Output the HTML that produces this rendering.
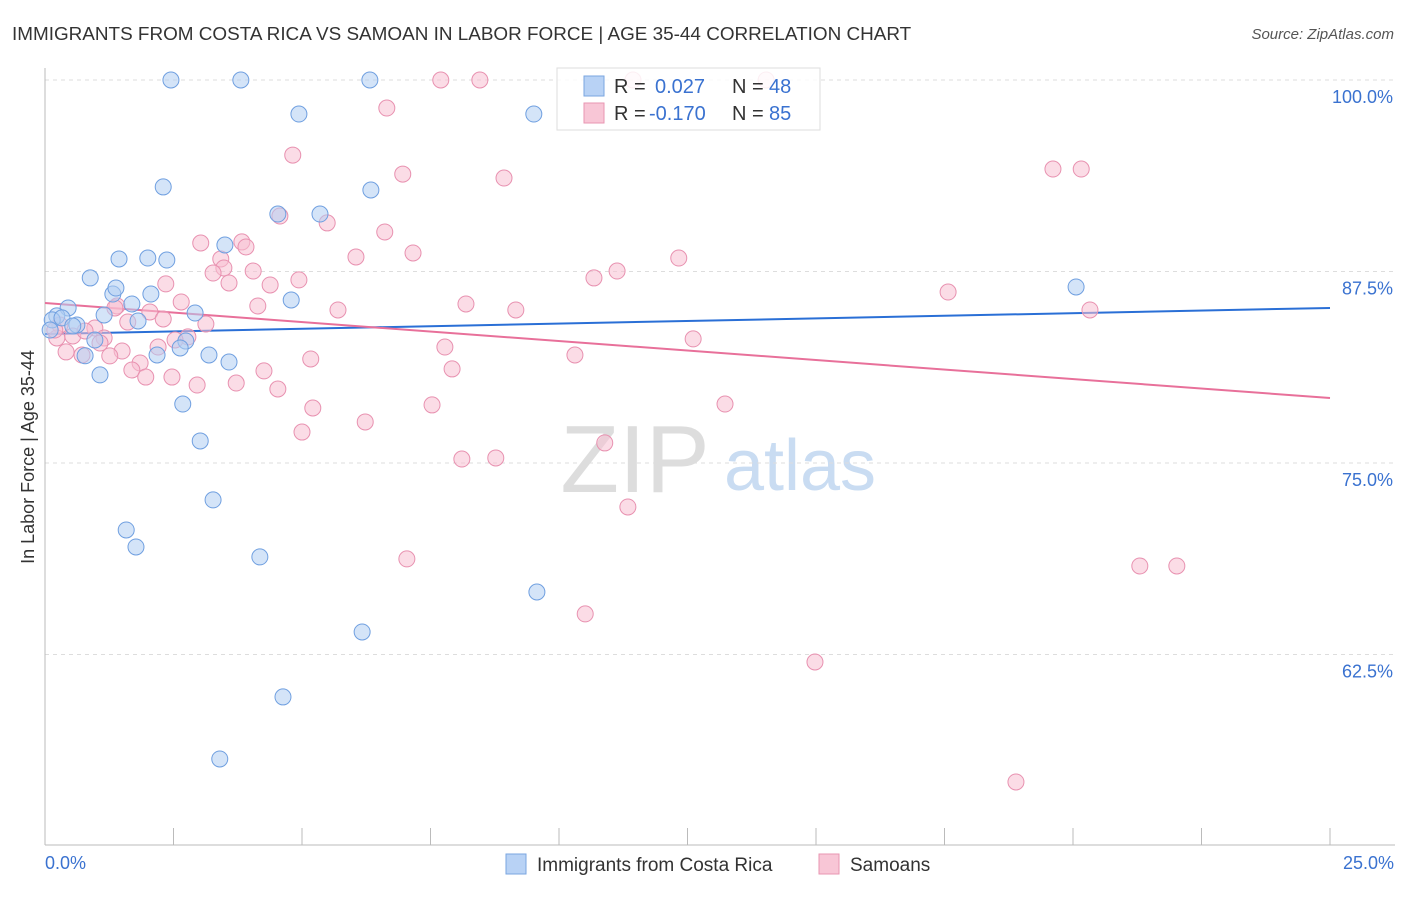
<!DOCTYPE html>
<html><head><meta charset="utf-8">
<style>
body{margin:0;background:#fff;font-family:"Liberation Sans",sans-serif;}
svg text{font-family:"Liberation Sans",sans-serif;}
</style></head>
<body>
<svg id="chart" width="1406" height="892" xmlns="http://www.w3.org/2000/svg">
<text x="12" y="40" font-size="18.9" fill="#333">IMMIGRANTS FROM COSTA RICA VS SAMOAN IN LABOR FORCE | AGE 35-44 CORRELATION CHART</text>
<text x="1394" y="39" font-size="15" fill="#555" text-anchor="end" font-style="italic">Source: ZipAtlas.com</text>
<g>
<text x="635" y="492" font-size="96" fill="#ddd" text-anchor="middle" font-family="Liberation Serif,serif">ZIP</text>
<text x="800" y="490" font-size="72" fill="#c9dcf2" text-anchor="middle">atlas</text>
</g>
<g id="grid"></g>
<g id="axes"></g>
<g id="trend"></g>
<g id="points"></g>
<text transform="translate(34,457) rotate(-90)" font-size="18" fill="#333" text-anchor="middle">In Labor Force | Age 35-44</text>
<g>
<rect x="557" y="68" width="263" height="62" fill="#fff" fill-opacity="0.85" stroke="#ddd"/>
<rect x="584" y="76" width="20" height="20" fill="#b8d2f5" stroke="#7aa6e0"/>
<rect x="584" y="103" width="20" height="20" fill="#f8c6d6" stroke="#e896b2"/>
<text x="614" y="93" font-size="20" fill="#333">R =</text>
<text x="655" y="93" font-size="20" fill="#3a72d0">0.027</text>
<text x="732" y="93" font-size="20" fill="#333">N =</text>
<text x="769" y="93" font-size="20" fill="#3a72d0">48</text>
<text x="614" y="120" font-size="20" fill="#333">R =</text>
<text x="649" y="120" font-size="20" fill="#3a72d0">-0.170</text>
<text x="732" y="120" font-size="20" fill="#333">N =</text>
<text x="769" y="120" font-size="20" fill="#3a72d0">85</text>
</g>
<g>
<rect x="506" y="854" width="20" height="20" fill="#b8d2f5" stroke="#7aa6e0"/>
<text x="537" y="871" font-size="19" fill="#333">Immigrants from Costa Rica</text>
<rect x="819" y="854" width="20" height="20" fill="#f8c6d6" stroke="#e896b2"/>
<text x="850" y="871" font-size="19" fill="#333">Samoans</text>
</g>
</svg>
<script>
const blueX=[2.45,3.81,6.32,9.51,4.94,2.30,6.34,4.53,5.35,3.50,1.44,2.00,2.37,0.88,1.32,1.38,2.06,1.69,0.45,1.15,2.92,4.79,0.23,0.14,0.33,0.62,0.10,1.81,0.54,0.97,2.74,2.63,2.18,3.19,3.58,0.78,1.07,2.68,3.02,3.27,1.58,1.77,4.18,9.57,6.17,4.63,3.40,20.06];
const blueY=[100,100,100,97.78,97.78,93.02,92.82,91.25,91.25,89.23,88.32,88.38,88.25,87.08,86.03,86.42,86.03,85.38,85.12,84.66,84.79,85.64,84.60,84.34,84.47,84.01,83.68,84.27,83.94,83.03,82.96,82.51,82.05,82.05,81.59,82.0,80.75,78.85,76.44,72.59,70.63,69.52,68.87,66.58,63.97,59.73,55.68,86.49];
const pinkX=[7.70,8.46,11.44,14.03,6.65,4.82,19.61,20.16,6.96,8.93,4.57,5.49,6.61,3.03,3.83,3.91,7.16,6.05,12.33,3.42,3.48,3.27,4.05,11.13,10.68,4.94,3.58,2.35,4.38,17.57,2.65,8.19,4.14,9.16,5.70,20.33,1.40,2.04,2.30,1.61,3.13,0.29,0.97,0.54,0.23,2.78,1.15,12.61,7.78,2.20,1.50,0.41,0.72,1.26,10.31,5.17,1.85,1.69,4.26,7.92,1.96,2.47,3.72,2.96,4.53,13.23,7.53,5.21,6.23,5.00,10.89,8.11,8.77,11.34,7.04,21.30,22.02,10.51,14.98,18.89,0.19,1.07,0.78,2.53,1.36];
const pinkY=[100,100,100,100,98.17,95.10,94.19,94.19,93.86,93.60,91.12,90.67,90.08,89.36,89.43,89.10,88.71,88.45,88.38,88.32,87.73,87.40,87.53,87.53,87.08,86.95,86.75,86.69,86.62,86.16,85.51,85.38,85.25,84.99,84.99,84.99,85.25,84.86,84.40,84.20,84.07,84.01,83.81,83.29,83.16,83.23,83.16,83.10,82.57,82.57,82.31,82.25,82.05,81.99,82.05,81.79,81.53,81.07,81.01,81.14,80.61,80.61,80.22,80.09,79.83,78.85,78.79,78.59,77.68,77.02,76.31,75.26,75.33,72.13,68.74,68.28,68.28,65.15,62.01,54.18,83.68,82.83,83.62,83.03,85.12];
const blueTrend=[83.42,85.12];
const pinkTrend=[85.44,79.24];
const yTicks=[100,87.5,75,62.5];
const yTickLabels=["100.0%","87.5%","75.0%","62.5%"];
const xMin=0,xMax=25;

const NS="http://www.w3.org/2000/svg";
const sx=v=>45+(v-xMin)/(xMax-xMin)*1285;
const sy=v=>80+(100-v)*15.32;
function mk(tag,attrs,parent){const e=document.createElementNS(NS,tag);for(const k in attrs)e.setAttribute(k,attrs[k]);document.getElementById(parent).appendChild(e);return e;}

yTicks.forEach((t,i)=>{
  const g=mk('line',{x1:45,x2:1395,y1:sy(t),y2:sy(t),stroke:'#ddd','stroke-dasharray':'4,4'},'grid');
  
  
  const l=mk('text',{x:1393,y:sy(t)+23,'font-size':18,fill:'#3a72d0','text-anchor':'end'},'grid');
  l.textContent=yTickLabels[i];
  
  
});
const ax=mk('line',{x1:45,x2:45,y1:68,y2:845,stroke:'#bbb'},'axes');


const bx=mk('line',{x1:45,x2:1395,y1:845,y2:845,stroke:'#bbb'},'axes');


for(let v=0;v<=25.001;v+=2.5){
  const t=mk('line',{x1:sx(v),x2:sx(v),y1:828,y2:845,stroke:'#bbb'},'axes');
  
  
}
const xl0=mk('text',{x:45,y:869,'font-size':18,fill:'#3a72d0'},'axes');xl0.textContent='0.0%';


const xl1=mk('text',{x:1394,y:869,'font-size':18,fill:'#3a72d0','text-anchor':'end'},'axes');xl1.textContent='25.0%';



function dots(X,Y,fill,stroke,name){
  X.forEach((x,i)=>{
    const c=mk('circle',{cx:sx(x),cy:sy(Y[i]),r:8,fill:fill,'fill-opacity':0.55,stroke:stroke,'stroke-width':1},'points');
    
    
  });
}
dots(pinkX,pinkY,'#f8c0d2','#e891b0','samoan-point');
dots(blueX,blueY,'#b0cdf3','#6f9fe0','costa-rica-point');

const tb=mk('line',{x1:sx(0),x2:sx(25),y1:sy(blueTrend[0]),y2:sy(blueTrend[1]),stroke:'#2a6fd6','stroke-width':2},'trend');


const tp=mk('line',{x1:sx(0),x2:sx(25),y1:sy(pinkTrend[0]),y2:sy(pinkTrend[1]),stroke:'#e8709a','stroke-width':2},'trend');


</script>
</body></html>
